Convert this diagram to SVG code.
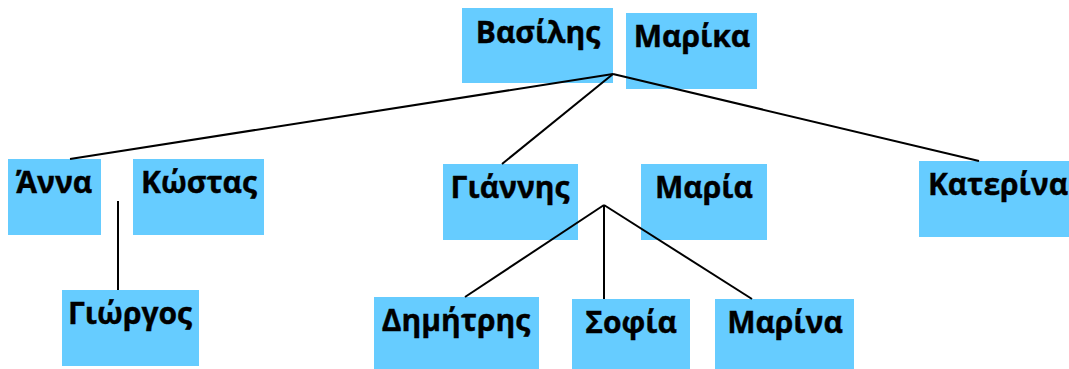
<svg xmlns="http://www.w3.org/2000/svg" width="1069" height="369" viewBox="0 0 1069 369">
<style>
.box{fill:#66ccff}
.lbl{font-family:"Open Sans","Noto Sans","DejaVu Sans",sans-serif;font-weight:bold;font-size:30px;fill:#000;text-anchor:middle;stroke:#000;stroke-width:0.4}
.conn line{stroke:#000;stroke-width:2}
</style>
<rect width="1069" height="369" fill="#fff"/>
<g id="n-vasilis"><rect class="box" x="462" y="8" width="151" height="75"/><text class="lbl" x="538" y="43">Βασίλης</text></g>
<g id="n-marika"><rect class="box" x="626" y="13" width="131" height="76"/><text class="lbl" x="692" y="47">Μαρίκα</text></g>
<g id="n-anna"><rect class="box" x="8" y="159" width="93" height="76"/><text class="lbl" x="54" y="193">Άννα</text></g>
<g id="n-kostas"><rect class="box" x="133" y="159" width="131" height="76"/><text class="lbl" x="199" y="193">Κώστας</text></g>
<g id="n-giorgos"><rect class="box" x="62" y="290" width="137" height="76"/><text class="lbl" x="130" y="324">Γιώργος</text></g>
<g id="n-giannis"><rect class="box" x="443" y="164" width="135" height="76"/><text class="lbl" x="510" y="198">Γιάννης</text></g>
<g id="n-maria"><rect class="box" x="641" y="164" width="126" height="76"/><text class="lbl" x="704" y="198">Μαρία</text></g>
<g id="n-katerina"><rect class="box" x="919" y="161" width="150" height="76"/><text class="lbl" x="998" y="195">Κατερίνα</text></g>
<g id="n-dimitris"><rect class="box" x="374" y="297" width="165" height="72"/><text class="lbl" x="456" y="331">Δημήτρης</text></g>
<g id="n-sofia"><rect class="box" x="572" y="299" width="118" height="70"/><text class="lbl" x="631" y="333">Σοφία</text></g>
<g id="n-marina"><rect class="box" x="715" y="299" width="139" height="70"/><text class="lbl" x="785" y="333">Μαρίνα</text></g>
<g id="connectors" class="conn">
<line x1="613" y1="74" x2="70" y2="159"/>
<line x1="613" y1="74" x2="502" y2="164"/>
<line x1="613" y1="74" x2="979" y2="161"/>
<line x1="118" y1="201" x2="118" y2="290"/>
<line x1="604" y1="205" x2="465" y2="297"/>
<line x1="604" y1="205" x2="604" y2="299"/>
<line x1="604" y1="205" x2="752" y2="299"/>
</g>
</svg>
